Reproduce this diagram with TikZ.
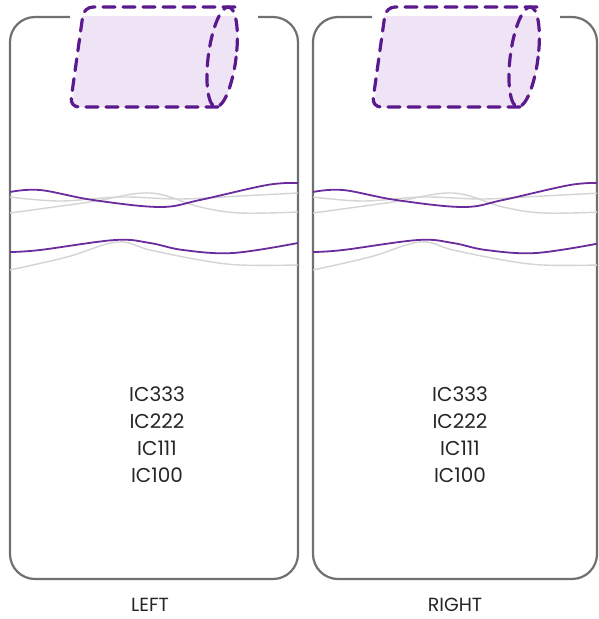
\documentclass[tikz,border=0pt]{standalone}
\usepackage{fontspec}
\setmainfont{Poppins}
\definecolor{boxgray}{HTML}{707070}
\definecolor{capline}{HTML}{5A1A8E}
\definecolor{capfill}{HTML}{EEE4F6}
\definecolor{wavepurple}{HTML}{6A2C9C}
\definecolor{wavegray}{HTML}{D4D4D4}
\tikzset{
  panelbox/.style={draw=boxgray, line width=2.2pt, rounded corners=25pt},
  capdash/.style={draw=capline, line width=3.2pt, dash pattern=on 12pt off 8pt, line cap=round},
  purplewave/.style={draw=wavepurple, line width=1.8pt},
  graywave/.style={draw=wavegray, line width=1.4pt},
  ictext/.style={font=\fontsize{20}{27}\selectfont, text=black!85, align=center, inner sep=0pt},
  labeltext/.style={font=\fontsize{19}{22}\selectfont, text=black!85, inner sep=0pt},
  capsule/.pic={
    \begin{scope}
      \clip (0,16) rectangle (300,120);
      \fill[capfill, rounded corners=8pt] (84,7) -- (235,7) -- (224,107) -- (72,107) -- cycle;
      \fill[capfill, xslant=0.12] (229,57) ellipse (14 and 50);
    \end{scope}
    \draw[capdash, rounded corners=9pt] (235,7) -- (84,7) -- (70,107) -- (224,107);
    \draw[capdash, xslant=0.12] (229,57) ellipse (14 and 50);
  },
  waves/.pic={
    \draw[graywave] plot[smooth, tension=0.6] coordinates {(10,197) (60,201) (120,197) (180,199) (240,196) (298,193)};
    \draw[graywave] plot[smooth, tension=0.6] coordinates {(10,213) (90,202) (150,193) (200,207) (240,213) (298,212)};
    \draw[graywave] plot[smooth, tension=0.6] coordinates {(10,270) (67,257) (117,242) (150,250) (200,260) (240,265) (298,265)};
    \draw[purplewave] plot[smooth, tension=0.6] coordinates {(10,192) (40,190) (93,200) (160,207) (200,200) (267,185) (298,183)};
    \draw[purplewave] plot[smooth, tension=0.6] coordinates {(10,252) (40,250) (115,240) (150,243) (183,250) (233,253) (298,243)};
  }
}
\begin{document}
\begin{tikzpicture}[x=1pt, y=-1pt]
\useasboundingbox (0,0) rectangle (598,619);
\fill[white] (0,0) rectangle (598,619);
% left panel
\draw[panelbox] (70,17) -- (10,17) -- (10,579) -- (298,579) -- (298,17) -- (258,17);
\pic at (0,0) {capsule};
\pic at (0,0) {waves};
\node[ictext] (lefttext) at (157,435) {IC333\\IC222\\IC111\\IC100};
\node[labeltext, anchor=base] (leftlabel) at (150,611) {LEFT};
% right panel
\draw[panelbox] (372,17) -- (313,17) -- (313,579) -- (597,579) -- (597,17) -- (560,17);
\pic at (302,0) {capsule};
\begin{scope}
  \clip (313,0) rectangle (597,619);
  \pic at (303,0) {waves};
\end{scope}
\node[ictext] (righttext) at (460,435) {IC333\\IC222\\IC111\\IC100};
\node[labeltext, anchor=base] (rightlabel) at (455,611) {RIGHT};
\end{tikzpicture}
\end{document}
